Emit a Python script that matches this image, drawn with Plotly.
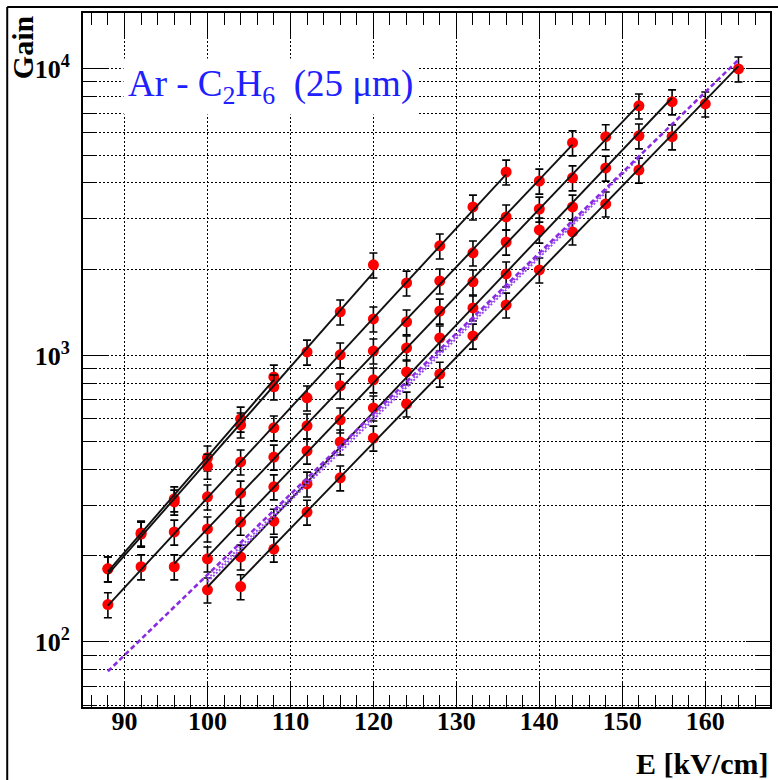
import numpy as np
import plotly.graph_objects as go

# ---------------- data ----------------
E0 = [88, 92, 96, 100, 104, 108]
G0 = [180, 240, 316, 439, 600, 841]

E1 = [88, 92, 96, 100, 104, 108, 112, 116, 120]
G1 = [180, 238, 308, 411, 572, 777, 1028, 1419, 2071]

E2 = [88, 92, 96, 100, 104, 108, 112, 116, 120, 124, 128, 132, 136]
G2 = [135, 183, 242, 321, 425, 559, 711, 1005, 1341, 1790, 2412, 3297, 4368]

E3 = [96, 100, 104, 108, 112, 116, 120, 124, 128, 132, 136, 140, 144]
G3 = [183, 248, 331, 442, 568, 783, 1037, 1310, 1820, 2280, 3043, 4062, 5524]

E4 = [100, 104, 108, 112, 116, 120, 124, 128, 132, 136, 140, 144, 148, 152]
G4 = [195, 262, 348, 464, 596, 822, 1062, 1429, 1806, 2488, 3243, 4168, 5800, 7430]

E5 = [100, 104, 108, 112, 116, 120, 124, 128, 132, 136, 140, 144, 148, 152, 156]
G5 = [152, 198, 264, 356, 499, 656, 876, 1151, 1465, 1925, 2740, 3297, 4510, 5840, 7680]

E6 = [104, 108, 112, 116, 120, 124, 128, 132, 136, 140, 144, 148, 152, 156, 160, 164]
G6 = [156, 211, 284, 374, 515, 677, 861, 1169, 1500, 1988, 2698, 3379, 4436, 5797, 7550, 10000]

# purple model curves (end points)
PE1 = [88, 164]
PG1 = [79, 10750]
PE2 = [100, 152]
PG2 = [166, 4880]
PE3 = [100, 148]
PG3 = [162, 3700]

ERR_PERCENT = 10

x_ticks = [90, 100, 110, 120, 130, 140, 150, 160]
y_ticks = [100, 1000, 10000]
y_ticktext = ["<b>10<sup>2</sup></b>", "<b>10<sup>3</sup></b>", "<b>10<sup>4</sup></b>"]
y_minor = [60, 70, 80, 90] + [k * 100 for k in range(2, 10)] + [k * 1000 for k in range(2, 10)]

series = [(E0, G0), (E1, G1), (E2, G2), (E3, G3), (E4, G4), (E5, G5), (E6, G6)]

fig = go.Figure()

# data points with error bars
for E, G in series:
    fig.add_trace(go.Scatter(
        x=E, y=G, mode="markers",
        marker=dict(color="#ff0000", size=11, line=dict(width=0)),
        error_y=dict(type="percent", value=ERR_PERCENT, color="black",
                     thickness=1.6, width=4),
        showlegend=False, hoverinfo="skip"))

# exponential fits (straight lines on log axis)
for E, G in series:
    e = np.array(E, dtype=float)
    p = np.polyfit(e, np.log10(np.array(G, dtype=float)), 1)
    xs = np.array([e.min(), e.max()])
    fig.add_trace(go.Scatter(
        x=xs, y=10 ** np.polyval(p, xs), mode="lines",
        line=dict(color="#111111", width=1.9),
        showlegend=False, hoverinfo="skip"))

# purple model lines
fig.add_trace(go.Scatter(x=PE2, y=PG2, mode="lines",
                         line=dict(color="#9a4cf0", width=2, dash="2px,2px"),
                         showlegend=False, hoverinfo="skip"))
fig.add_trace(go.Scatter(x=PE3, y=PG3, mode="lines",
                         line=dict(color="#9a4cf0", width=2, dash="2px,2px"),
                         showlegend=False, hoverinfo="skip"))
fig.add_trace(go.Scatter(x=PE1, y=PG1, mode="lines",
                         line=dict(color="#8a2be2", width=2.6, dash="5px,3px"),
                         showlegend=False, hoverinfo="skip"))

FONT = "Liberation Serif"

fig.update_layout(
    width=778, height=780,
    margin=dict(l=83, r=6, t=13, b=73),
    paper_bgcolor="white", plot_bgcolor="white",
    showlegend=False,
    xaxis=dict(
        range=[85, 167.8], tickvals=x_ticks,
        ticks="inside", ticklen=24, tickwidth=1.2, tickcolor="black",
        showline=True, linecolor="black", linewidth=2, mirror="allticks",
        showgrid=True, gridcolor="black", gridwidth=1, griddash="2px,2px",
        zeroline=False,
        tickfont=dict(family=FONT, size=26, color="black", weight="bold"),
        ticklabelstandoff=-10,
        minor=dict(dtick=2, tick0=0, ticks="inside", ticklen=12,
                   tickcolor="black", tickwidth=1.2, showgrid=False),
    ),
    yaxis=dict(
        type="log", range=[1.773, 4.195],
        tickvals=y_ticks, ticktext=y_ticktext,
        ticks="inside", ticklen=24, tickwidth=1.2, tickcolor="black",
        showline=True, linecolor="black", linewidth=2, mirror="allticks",
        showgrid=True, gridcolor="black", gridwidth=1, griddash="2px,2px",
        zeroline=False,
        tickfont=dict(family=FONT, size=26, color="black"),
        ticklabelstandoff=6,
        minor=dict(tickvals=y_minor, ticks="inside", ticklen=14,
                   tickcolor="black", tickwidth=1.2, showgrid=True,
                   gridcolor="black", gridwidth=1, griddash="2px,2px"),
    ),
)

fig.add_annotation(
    xref="paper", yref="paper", x=0.058, y=0.935,
    xanchor="left", yanchor="top",
    text="Ar - C<sub>2</sub>H<sub>6</sub>\u00a0\u00a0(25\u00a0\u03bcm)",
    showarrow=False, bgcolor="white", borderpad=4,
    font=dict(family=FONT, size=37, color="#2020ff"))

fig.add_annotation(
    xref="paper", yref="paper", x=-0.0885, y=1.0,
    xanchor="center", yanchor="top", textangle=-90,
    text="<b>Gain</b>", showarrow=False,
    font=dict(family=FONT, size=30, color="black"))

fig.add_annotation(
    xref="paper", yref="paper", x=1.0, y=-0.0807,
    xanchor="right", yanchor="middle",
    text="<b>E [kV/cm]</b>", showarrow=False,
    font=dict(family=FONT, size=30, color="black"))

# outer canvas frame (left and top edges visible)
fig.add_shape(type="line", xref="paper", yref="paper",
              x0=-0.1103, x1=-0.1103, y0=1.0087, y1=-0.3,
              line=dict(color="black", width=2))
fig.add_shape(type="line", xref="paper", yref="paper",
              x0=-0.1103, x1=1.05, y0=1.0087, y1=1.0087,
              line=dict(color="black", width=2))

fig.write_html("out.html",
               config={"displayModeBar": False},
               post_script="document.body.style.margin='0px';")
